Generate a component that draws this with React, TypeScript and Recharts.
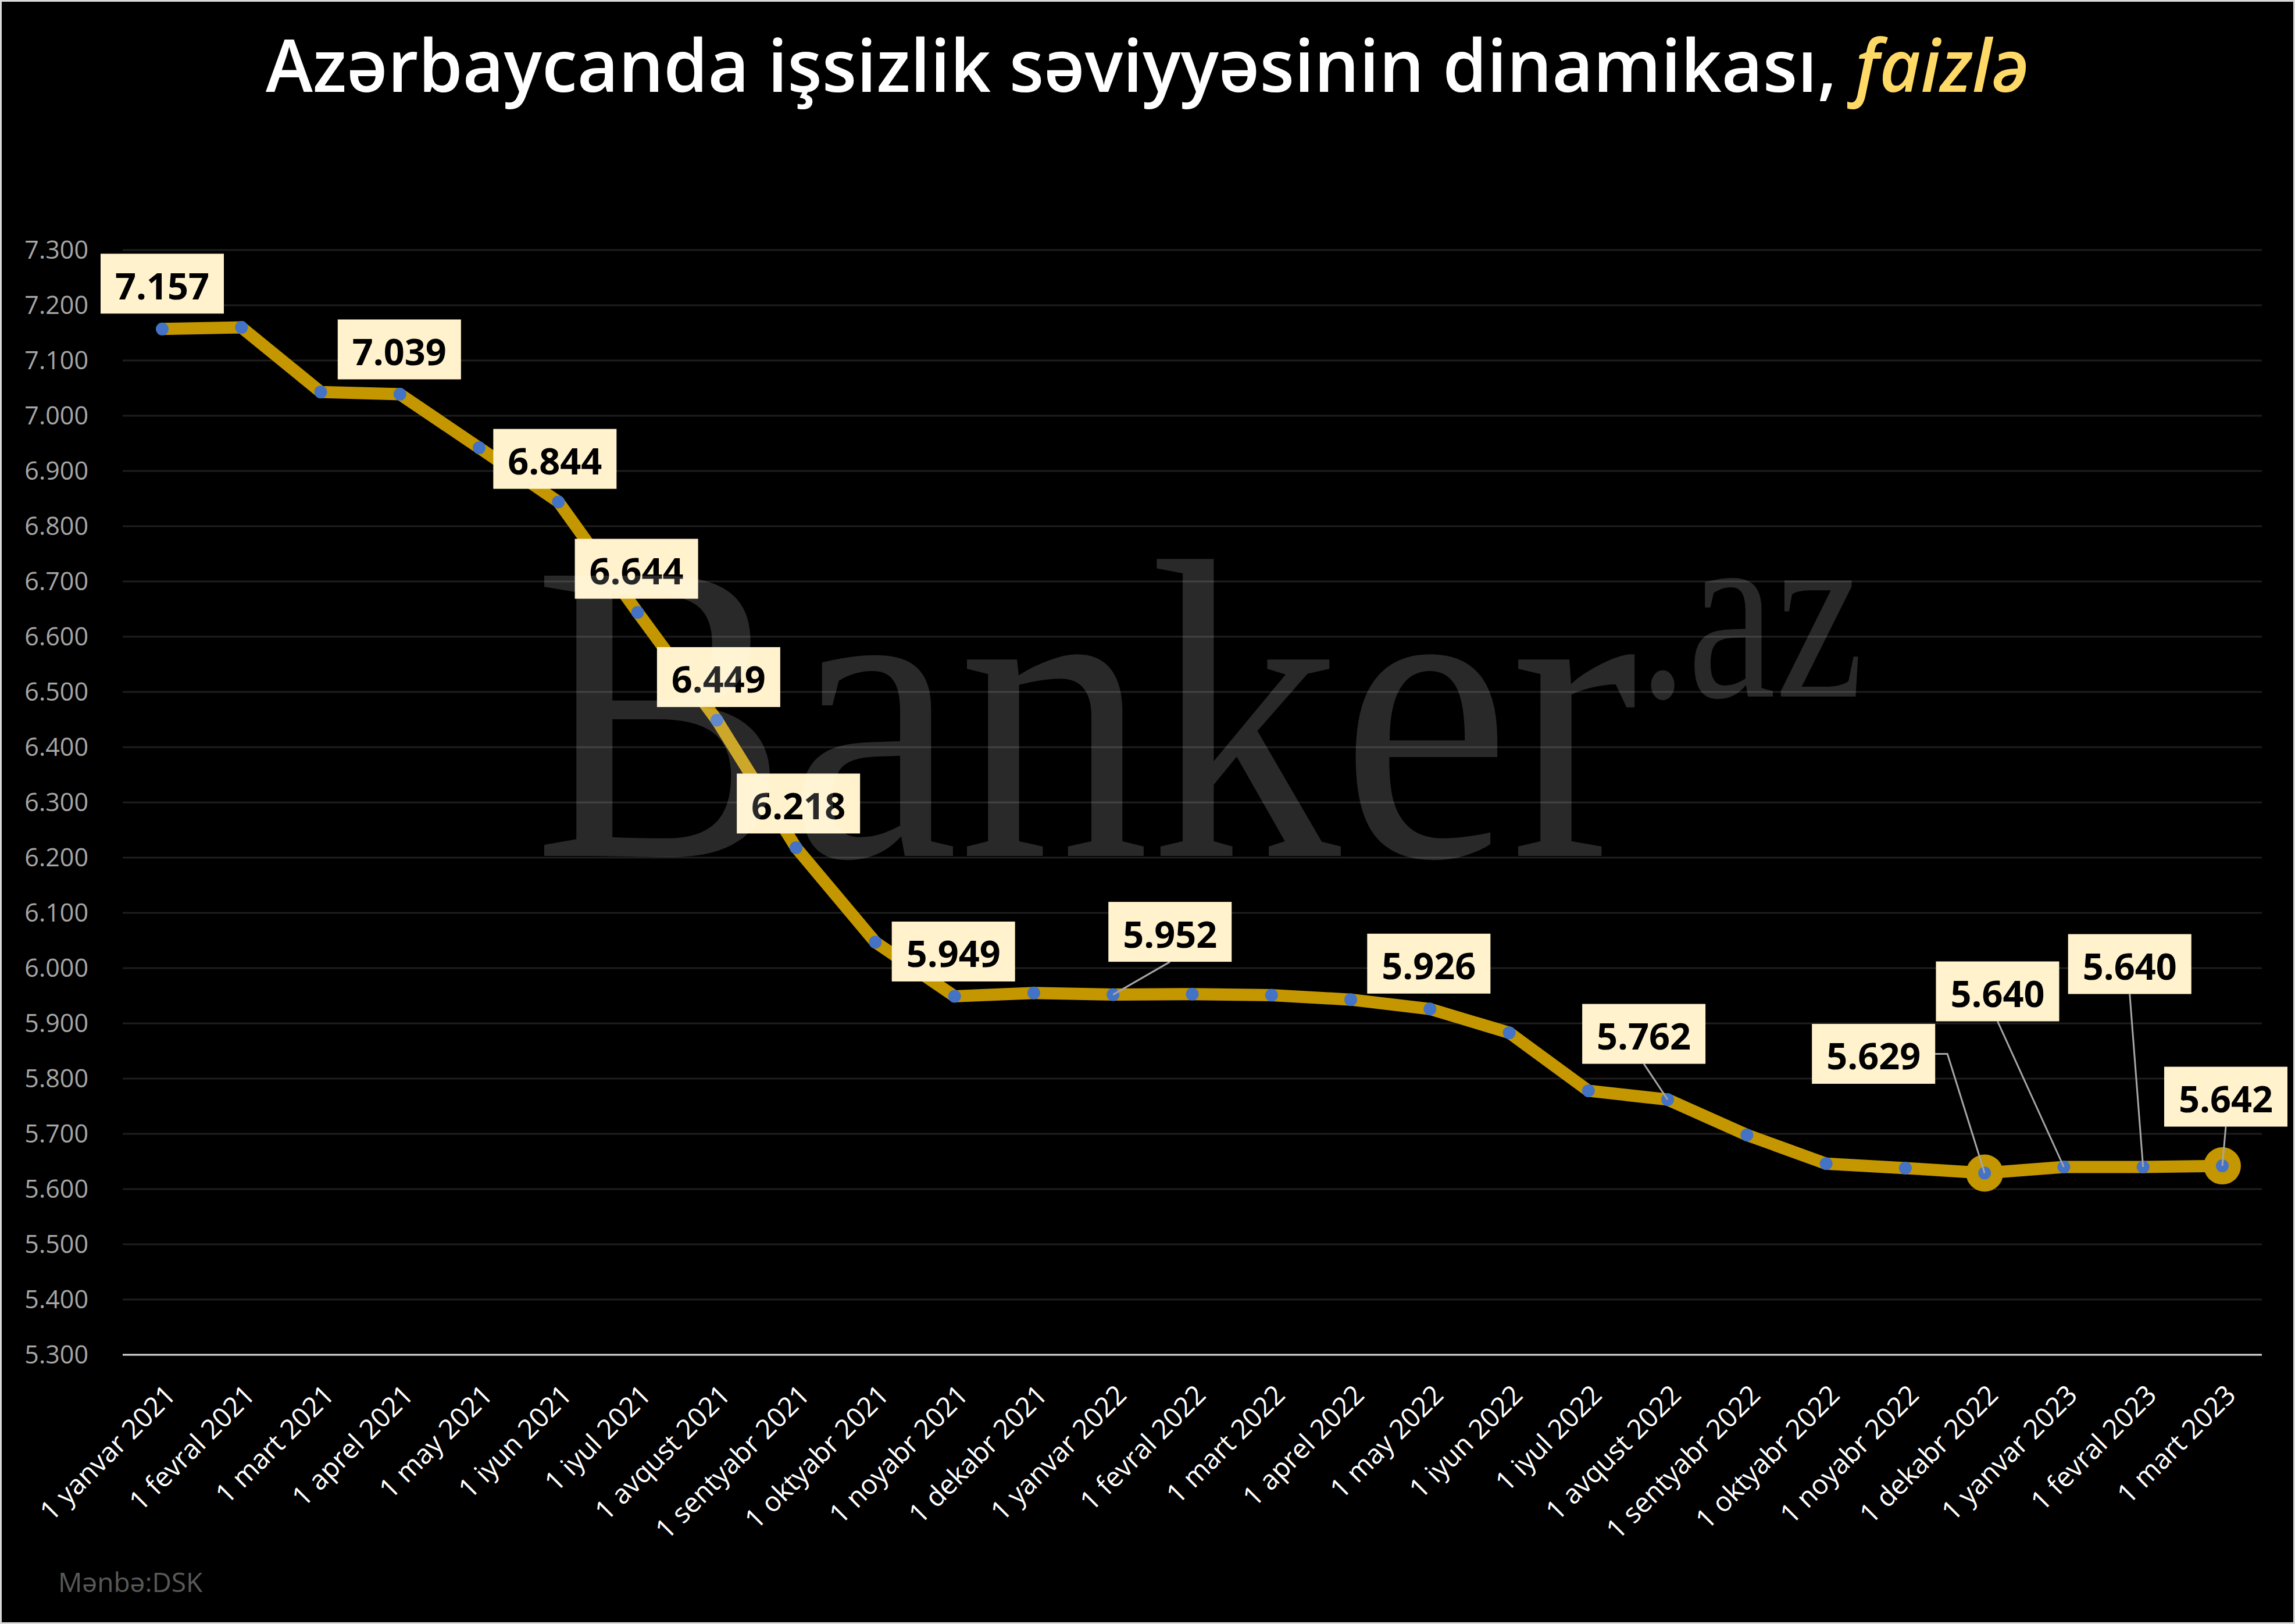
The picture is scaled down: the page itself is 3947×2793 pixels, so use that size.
import React from 'react';
import { LineChart, Line, XAxis, YAxis, CartesianGrid, LabelList } from 'recharts';

const months = [
  '1 yanvar 2021', '1 fevral 2021', '1 mart 2021', '1 aprel 2021', '1 may 2021', '1 iyun 2021',
  '1 iyul 2021', '1 avqust 2021', '1 sentyabr 2021', '1 oktyabr 2021', '1 noyabr 2021', '1 dekabr 2021',
  '1 yanvar 2022', '1 fevral 2022', '1 mart 2022', '1 aprel 2022', '1 may 2022', '1 iyun 2022',
  '1 iyul 2022', '1 avqust 2022', '1 sentyabr 2022', '1 oktyabr 2022', '1 noyabr 2022', '1 dekabr 2022',
  '1 yanvar 2023', '1 fevral 2023', '1 mart 2023',
];

const rates = [
  7.157, 7.160, 7.043, 7.039, 6.942, 6.844, 6.644, 6.449, 6.218, 6.047, 5.949, 5.955,
  5.952, 5.953, 5.951, 5.943, 5.926, 5.883, 5.778, 5.762, 5.698, 5.646, 5.638, 5.629,
  5.640, 5.640, 5.642,
];

const yTicks = [
  5.3, 5.4, 5.5, 5.6, 5.7, 5.8, 5.9, 6.0, 6.1, 6.2, 6.3,
  6.4, 6.5, 6.6, 6.7, 6.8, 6.9, 7.0, 7.1, 7.2, 7.3,
];

// points drawn with the big gold ring
const bigPoints = [23, 26];

const data = months.map((month, i) => ({ month, rate: rates[i] }));

// where each value box sits relative to its point: [dx, dy, leader]
const labelOffsets: Record<number, [number, number, string]> = {
  0: [0, -78, 'none'],
  3: [-1, -77, 'none'],
  5: [-6, -74, 'none'],
  6: [-2, -75, 'none'],
  7: [3, -74, 'none'],
  8: [4, -76, 'none'],
  10: [-2, -77, 'none'],
  12: [98, -108, 'line'],
  16: [-2, -78, 'none'],
  19: [-41, -113, 'line'],
  23: [-191, -205, 'elbow'],
  24: [-114, -302, 'line'],
  25: [-23, -349, 'line'],
  26: [6, -119, 'line'],
};

const W = 3947;
const H = 2793;
const FONT = '"Open Sans", "Noto Sans", sans-serif';
const GOLD = '#C49700';
const BLUE = '#4472C4';

function RateDot(props: any) {
  const { cx, cy, index } = props;
  const big = bigPoints.includes(index);
  return (
    <g key={`dot-${index}`}>
      {big && <circle cx={cx} cy={cy} r={32} fill={GOLD} />}
      <circle cx={cx} cy={cy} r={11} fill={BLUE} />
    </g>
  );
}

function ValueLabel(props: any) {
  const { x, y, value, index } = props;
  const off = labelOffsets[index];
  if (!off) return null;
  const [dx, dy, lead] = off;
  const cx = x + dx;
  const cy = y + dy;
  const bw = 212;
  const bh = 103;
  let leader = null;
  if (lead === 'line') {
    leader = <line x1={cx} y1={cy + bh / 2} x2={x} y2={y} stroke="#A6A6A6" strokeWidth={3} />;
  } else if (lead === 'elbow') {
    leader = (
      <polyline
        points={`${cx + bw / 2},${cy} ${cx + bw / 2 + 21},${cy} ${x},${y}`}
        fill="none"
        stroke="#A6A6A6"
        strokeWidth={3}
      />
    );
  }
  return (
    <g>
      {leader}
      <rect x={cx - bw / 2} y={cy - bh / 2} width={bw} height={bh} fill="#FFF2CC" />
      <text x={cx} y={cy + 27} textAnchor="middle" fontSize={63} fontWeight={700} fontFamily={FONT} fill="#000">
        {Number(value).toFixed(3)}
      </text>
    </g>
  );
}

function MonthTick(props: any) {
  const { x, y, payload } = props;
  const tx = x + 26;
  const ty = y + 72;
  return (
    <text
      x={tx}
      y={ty}
      transform={`rotate(-45, ${tx}, ${ty})`}
      textAnchor="end"
      fill="#FFFFFF"
      fontSize={47}
      fontFamily={FONT}
    >
      {payload.value}
    </text>
  );
}

export default function App() {
  return (
    <div style={{ position: 'absolute', left: 0, top: 0, width: W, height: H, background: '#000', overflow: 'hidden' }}>
      <LineChart width={W} height={H} data={data} margin={{ top: 430, right: 57, bottom: 0, left: 0 }}>
        <CartesianGrid vertical={false} stroke="#1E1E1E" strokeWidth={3} />
        <XAxis
          dataKey="month"
          interval={0}
          height={463}
          padding={{ left: 68, right: 68 }}
          tickLine={false}
          tickSize={0}
          tickMargin={0}
          axisLine={{ stroke: '#D9D9D9', strokeWidth: 3 }}
          tick={<MonthTick />}
        />
        <YAxis
          width={211}
          domain={[5.3, 7.3]}
          ticks={yTicks}
          interval={0}
          axisLine={false}
          tickLine={false}
          tickSize={0}
          tickMargin={59}
          tickFormatter={(v: number) => v.toFixed(3)}
          tick={{ fill: '#A6A6A6', fontSize: 43, fontFamily: FONT }}
        />
        <Line
          type="linear"
          dataKey="rate"
          stroke={GOLD}
          strokeWidth={21}
          dot={RateDot}
          activeDot={false}
          isAnimationActive={false}
        >
          <LabelList dataKey="rate" content={ValueLabel} />
        </Line>
      </LineChart>

      <svg width={W} height={H} style={{ position: 'absolute', left: 0, top: 0, pointerEvents: 'none' }}>
        <text
          x={W / 2}
          y={158}
          textAnchor="middle"
          fontSize={125}
          fontWeight={600}
          fontFamily={FONT}
          fill="#FFFFFF"
          textLength={3033}
          lengthAdjust="spacingAndGlyphs"
        >
          Azərbaycanda işsizlik səviyyəsinin dinamikası,{' '}
          <tspan fill="#FFD966" fontStyle="italic">faizlə</tspan>
        </text>
        <g fill="#FFFFFF" fillOpacity={0.16} fontFamily='"Liberation Serif", "DejaVu Serif", serif'>
          <text x={917} y={1472} fontSize={736} textLength={1900} lengthAdjust="spacingAndGlyphs">Banker</text>
          <text x={2817} y={1198} fontSize={435} textLength={388} lengthAdjust="spacingAndGlyphs">.az</text>
        </g>
        <text x={100} y={2738} fontSize={46} fontFamily={FONT} fill="#595959">Mənbə:DSK</text>
      </svg>

      <div style={{ position: 'absolute', inset: 0, border: '3px solid #D9D9D9', boxSizing: 'border-box', pointerEvents: 'none' }} />
    </div>
  );
}
